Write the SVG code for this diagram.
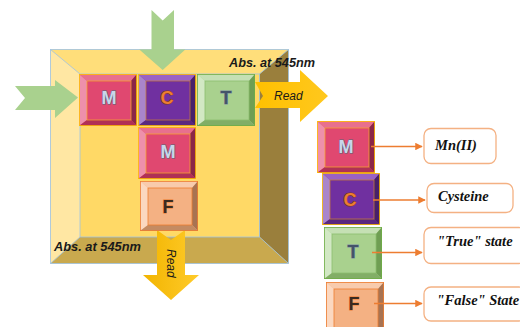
<svg xmlns="http://www.w3.org/2000/svg" width="520" height="327" viewBox="0 0 520 327">
<defs>
<style>
.tl{font-family:"Liberation Sans",Arial,sans-serif;font-size:18px;font-weight:bold;text-anchor:middle;stroke-width:1px;paint-order:stroke}
.abs{font-family:"Liberation Sans",Arial,sans-serif;font-size:12px;font-weight:bold;font-style:italic;fill:#1a1a1a}
.rd{font-family:"Liberation Sans",Arial,sans-serif;font-size:12px;font-style:italic;fill:#1a1a1a}
.lbl{font-family:"Liberation Serif","Times New Roman",serif;font-size:14.5px;font-weight:bold;font-style:italic;fill:#111}
.box{fill:#fff;stroke:#F4B183;stroke-width:1.3}
.con{stroke:#ED7D31;stroke-width:1.5;fill:none;marker-end:url(#ah)}
.bl{fill:none;stroke:#9DC3E6;stroke-width:0.8}
</style>
<marker id="ah" viewBox="0 0 10 10" refX="9" refY="5" markerWidth="5" markerHeight="5" orient="auto" markerUnits="strokeWidth">
<path d="M0,0 L10,5 L0,10 z" fill="#ED7D31"/>
</marker>
<linearGradient id="yg" x1="0" y1="0" x2="1" y2="0">
<stop offset="0" stop-color="#FFC000"/><stop offset="1" stop-color="#FFC81E"/>
</linearGradient>
<linearGradient id="yg2" x1="0" y1="0" x2="1" y2="0">
<stop offset="0" stop-color="#F2B400"/><stop offset="1" stop-color="#FFCB2A"/>
</linearGradient>
</defs>

<g id="frame">
<rect x="50.5" y="49.5" width="238" height="214" fill="#FFD966"/>
<polygon points="50.5,49.5 288.5,49.5 259.5,74 80,74" fill="#FFDE7A"/>
<polygon points="50.5,49.5 80,74 80,237 50.5,263.5" fill="#FFE7A3"/>
<polygon points="288.5,49.5 288.5,263.5 259.5,237 259.5,74" fill="#9A7F3C"/>
<polygon points="50.5,263.5 288.5,263.5 259.5,237 80,237" fill="#C9A94E"/>
<rect x="80" y="74" width="179.5" height="163" fill="#FFD966" class="bl"/>
<rect x="50.5" y="49.5" width="238" height="214" class="bl"/>
<line x1="50.5" y1="49.5" x2="80" y2="74" class="bl"/>
<line x1="288.5" y1="49.5" x2="259.5" y2="74" class="bl"/>
<line x1="50.5" y1="263.5" x2="80" y2="237" class="bl"/>
<line x1="288.5" y1="263.5" x2="259.5" y2="237" class="bl"/>
<text class="abs" x="229" y="67" textLength="86" lengthAdjust="spacingAndGlyphs">Abs. at 545nm</text>
<text class="abs" x="54" y="251" textLength="87" lengthAdjust="spacingAndGlyphs">Abs. at 545nm</text>
</g>

<g id="flow-arrows">
<polygon id="in-top" points="151.5,10 162.7,20.5 174,10 174,49.5 185.3,49.5 162.7,70 139.3,49.5 151.5,49.5" fill="#A9D18E"/>
<polygon id="in-left" points="15,86 55,86 55,80 78,97.5 55,118 55,110 15,110 25,98" fill="#A9D18E"/>
<g id="read-right">
<polygon points="255,82 300,82 300,70 328,96 300,122 300,108 255,108 263,96" fill="url(#yg)"/>
<text class="rd" x="274" y="100">Read</text>
</g>
<g id="read-bottom">
<polygon points="157,230 171,240 185,230 185,275 199,275 171,300 143,275 157,275" fill="url(#yg2)"/>
<text class="rd" transform="translate(167,249) rotate(90)">Read</text>
</g>
</g>

<g id="tile-M1" transform="translate(79,74)">
<rect width="58" height="52" fill="#E04870"/>
<polygon points="0,0 58,0 52,7 8,7" fill="#E8708E"/>
<polygon points="0,0 8,7 8,46 0,52" fill="#EE90AB"/>
<polygon points="58,0 58,52 52,46 52,7" fill="#8B2747"/>
<polygon points="0,52 58,52 52,46 8,46" fill="#B03055"/>
<rect x="8" y="7" width="44" height="39" fill="#E04870" stroke="#F5A030" stroke-width="0.8"/>
<rect x="0.4" y="0.4" width="57.2" height="51.2" fill="none" stroke="#FFC000" stroke-width="0.8"/>
<text class="tl" x="30" y="30" fill="#C9D6EA" stroke="#56657A">M</text>
</g>

<g id="tile-C1" transform="translate(138,74)">
<rect width="58" height="52" fill="#7030A0"/>
<polygon points="0,0 58,0 52,7 8,7" fill="#9B62C4"/>
<polygon points="0,0 8,7 8,46 0,52" fill="#A985CB"/>
<polygon points="58,0 58,52 52,46 52,7" fill="#48206A"/>
<polygon points="0,52 58,52 52,46 8,46" fill="#5A287F"/>
<rect x="8" y="7" width="44" height="39" fill="#7030A0" stroke="#C07840" stroke-width="0.8"/>
<rect x="0.4" y="0.4" width="57.2" height="51.2" fill="none" stroke="#FFC000" stroke-width="0.8"/>
<text class="tl" x="29" y="30" fill="#ED7D31" stroke="#7A3A10">C</text>
</g>

<g id="tile-T1" transform="translate(197,74)">
<rect width="58" height="52" fill="#A9D18E"/>
<polygon points="0,0 58,0 52,7 8,7" fill="#C5E0B4"/>
<polygon points="0,0 8,7 8,46 0,52" fill="#D2E8C4"/>
<polygon points="58,0 58,52 52,46 52,7" fill="#6F9E53"/>
<polygon points="0,52 58,52 52,46 8,46" fill="#82AE66"/>
<rect x="8" y="7" width="44" height="39" fill="#A9D18E" stroke="#8CBF6E" stroke-width="0.8"/>
<rect x="0.4" y="0.4" width="57.2" height="51.2" fill="none" stroke="#70AD47" stroke-width="0.8"/>
<text class="tl" x="29" y="30" fill="#44546A" stroke="#8090A0" stroke-width="0.5">T</text>
</g>

<g id="tile-M2" transform="translate(138,127)">
<rect width="58" height="52" fill="#E04870"/>
<polygon points="0,0 58,0 52,7 8,7" fill="#E8708E"/>
<polygon points="0,0 8,7 8,46 0,52" fill="#EE90AB"/>
<polygon points="58,0 58,52 52,46 52,7" fill="#8B2747"/>
<polygon points="0,52 58,52 52,46 8,46" fill="#B03055"/>
<rect x="8" y="7" width="44" height="39" fill="#E04870" stroke="#F5A030" stroke-width="0.8"/>
<rect x="0.4" y="0.4" width="57.2" height="51.2" fill="none" stroke="#FFC000" stroke-width="0.8"/>
<text class="tl" x="30" y="31" fill="#C9D6EA" stroke="#56657A">M</text>
</g>

<g id="tile-F1" transform="translate(140,181)">
<rect width="58" height="50" fill="#F4B183"/>
<polygon points="0,0 58,0 52,7 8,7" fill="#F8CBAD"/>
<polygon points="0,0 8,7 8,44 0,50" fill="#FBD8C0"/>
<polygon points="58,0 58,50 52,44 52,7" fill="#A87352"/>
<polygon points="0,50 58,50 52,44 8,44" fill="#C48B62"/>
<rect x="8" y="7" width="44" height="37" fill="#F4B183" stroke="#ED7D31" stroke-width="0.8"/>
<rect x="0.4" y="0.4" width="57.2" height="49.2" fill="none" stroke="#ED7D31" stroke-width="0.8"/>
<text class="tl" x="28" y="32" fill="#3A2A20" stroke="#ED7D31" stroke-width="0.6">F</text>
</g>

<g id="legend-M" transform="translate(317,121)">
<rect width="58" height="52" fill="#E04870"/>
<polygon points="0,0 58,0 52,7 8,7" fill="#E8708E"/>
<polygon points="0,0 8,7 8,46 0,52" fill="#EE90AB"/>
<polygon points="58,0 58,52 52,46 52,7" fill="#8B2747"/>
<polygon points="0,52 58,52 52,46 8,46" fill="#B03055"/>
<rect x="8" y="7" width="44" height="39" fill="#E04870" stroke="#F5A030" stroke-width="0.8"/>
<rect x="0.4" y="0.4" width="57.2" height="51.2" fill="none" stroke="#FFC000" stroke-width="0.8"/>
<text class="tl" x="29" y="32" fill="#C9D6EA" stroke="#56657A">M</text>
</g>

<g id="legend-C" transform="translate(322,173)">
<rect width="58" height="52" fill="#7030A0"/>
<polygon points="0,0 58,0 52,7 8,7" fill="#9B62C4"/>
<polygon points="0,0 8,7 8,46 0,52" fill="#A985CB"/>
<polygon points="58,0 58,52 52,46 52,7" fill="#48206A"/>
<polygon points="0,52 58,52 52,46 8,46" fill="#5A287F"/>
<rect x="8" y="7" width="44" height="39" fill="#7030A0" stroke="#C07840" stroke-width="0.8"/>
<rect x="0.4" y="0.4" width="57.2" height="51.2" fill="none" stroke="#FFC000" stroke-width="0.8"/>
<text class="tl" x="28" y="33" fill="#ED7D31" stroke="#7A3A10">C</text>
</g>

<g id="legend-T" transform="translate(324,227)">
<rect width="58" height="52" fill="#A9D18E"/>
<polygon points="0,0 58,0 52,7 8,7" fill="#C5E0B4"/>
<polygon points="0,0 8,7 8,46 0,52" fill="#D2E8C4"/>
<polygon points="58,0 58,52 52,46 52,7" fill="#6F9E53"/>
<polygon points="0,52 58,52 52,46 8,46" fill="#82AE66"/>
<rect x="8" y="7" width="44" height="39" fill="#A9D18E" stroke="#8CBF6E" stroke-width="0.8"/>
<rect x="0.4" y="0.4" width="57.2" height="51.2" fill="none" stroke="#70AD47" stroke-width="0.8"/>
<text class="tl" x="29" y="31" fill="#44546A" stroke="#8090A0" stroke-width="0.5">T</text>
</g>

<g id="legend-F" transform="translate(326,282)">
<rect width="58" height="52" fill="#F4B183"/>
<polygon points="0,0 58,0 52,7 8,7" fill="#F8CBAD"/>
<polygon points="0,0 8,7 8,46 0,52" fill="#FBD8C0"/>
<polygon points="58,0 58,52 52,46 52,7" fill="#A87352"/>
<polygon points="0,52 58,52 52,46 8,46" fill="#C48B62"/>
<rect x="8" y="7" width="44" height="39" fill="#F4B183" stroke="#ED7D31" stroke-width="0.8"/>
<rect x="0.4" y="0.4" width="57.2" height="51.2" fill="none" stroke="#ED7D31" stroke-width="0.8"/>
<text class="tl" x="28" y="28" fill="#3A2A20" stroke="#ED7D31" stroke-width="0.6">F</text>
</g>

<g id="label-Mn">
<rect class="box" x="424" y="128.5" width="72" height="35" rx="7"/>
<text class="lbl" x="435" y="150">Mn(II)</text>
</g>
<g id="label-Cys">
<rect class="box" x="427" y="183.5" width="86" height="29" rx="7"/>
<text class="lbl" x="438" y="201">Cysteine</text>
</g>
<g id="label-True">
<rect class="box" x="424" y="227.5" width="102" height="36" rx="7"/>
<text class="lbl" x="437" y="246">"True" state</text>
</g>
<g id="label-False">
<rect class="box" x="424" y="287" width="102" height="34" rx="7"/>
<text class="lbl" x="436.5" y="305">"False" State</text>
</g>

<g id="connectors">
<line class="con" x1="371" y1="146.5" x2="422" y2="146.5"/>
<line class="con" x1="373" y1="200" x2="425" y2="200"/>
<line class="con" x1="372" y1="252.5" x2="422" y2="252.5"/>
<line class="con" x1="374" y1="303.5" x2="422" y2="303.5"/>
</g>
</svg>
